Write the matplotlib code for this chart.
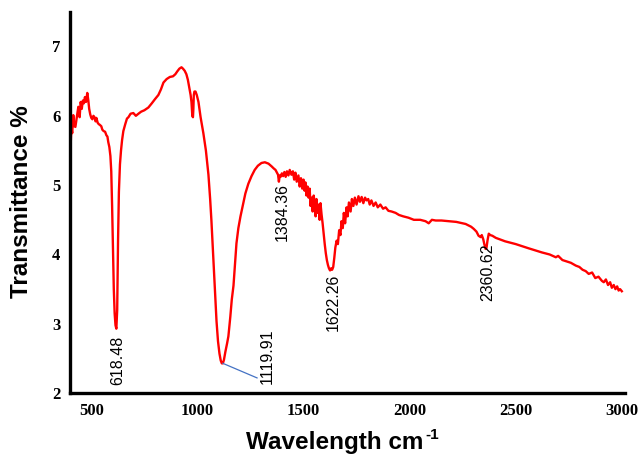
import matplotlib
matplotlib.use("Agg")
import matplotlib.pyplot as plt

wavenumber = [
    400, 403, 406, 410, 415, 420, 425, 430, 435, 439,
    445, 450, 455, 460, 465, 470, 475, 481, 486, 490,
    495, 500, 505, 510, 515, 520, 524, 530, 535, 540,
    547, 552, 558, 565, 571, 576, 580, 585, 590, 594,
    598, 602, 606, 610, 614, 618, 622, 626, 630, 635,
    640, 645, 651, 660, 668, 675, 685, 698, 710, 722,
    735, 750, 769, 785, 800, 816, 828, 840, 855, 870,
    885, 896, 905, 915, 925, 932, 940, 948, 955, 962,
    968, 972, 976, 979, 981, 983, 986, 991, 997, 1005,
    1015, 1028, 1040, 1052, 1060, 1066, 1075, 1083, 1090, 1097,
    1104, 1110, 1115, 1120, 1125, 1132, 1140, 1146, 1155, 1162,
    1170, 1177, 1184, 1193, 1203, 1215, 1226, 1240, 1255, 1270,
    1285, 1302, 1318, 1335, 1350, 1360, 1368, 1375, 1380, 1384,
    1388, 1392, 1398, 1404, 1410, 1416, 1422, 1429, 1435, 1443,
    1450, 1456, 1462, 1468, 1476, 1482, 1488, 1494, 1500, 1505,
    1509, 1514, 1519, 1524, 1529, 1533, 1538, 1543, 1548, 1553,
    1557, 1561, 1566, 1571, 1576, 1580, 1585, 1590, 1595, 1600,
    1605, 1610, 1615, 1620, 1625, 1630, 1635, 1640, 1645, 1650,
    1656, 1662, 1668, 1674, 1679, 1685, 1690, 1696, 1703, 1708,
    1714, 1722, 1728, 1735, 1742, 1750, 1759, 1766, 1774, 1782,
    1790, 1797, 1805, 1812, 1820, 1830, 1840, 1850, 1862, 1875,
    1887, 1900, 1915, 1934, 1950, 1970, 1995, 2020, 2050, 2075,
    2090, 2105, 2123, 2150, 2184, 2220, 2264, 2290, 2302, 2315,
    2325, 2335, 2340, 2347, 2352, 2358, 2362, 2367, 2373, 2380,
    2390, 2406, 2450, 2500, 2560, 2623, 2660, 2689, 2700, 2720,
    2740, 2760, 2783, 2800, 2815, 2830, 2844, 2860, 2875, 2890,
    2906, 2915, 2925, 2935, 2945, 2953, 2962, 2970, 2978, 2985,
    2992, 3000,
]

transmittance = [
    5.05, 5.60, 5.84, 5.75, 6.01, 5.85, 5.84, 5.95, 6.05, 6.13,
    5.98, 6.20, 6.10, 6.22, 6.18, 6.27, 6.20, 6.33, 6.22, 6.10,
    6.02, 5.97, 5.95, 6.00, 5.98, 5.92, 5.97, 5.90, 5.88, 5.87,
    5.85, 5.80, 5.78, 5.77, 5.72, 5.70, 5.62, 5.55, 5.42, 5.20,
    4.70, 4.10, 3.50, 3.15, 2.98, 2.93, 3.20, 4.20, 4.90, 5.30,
    5.50, 5.65, 5.78, 5.88, 5.96, 5.98, 6.03, 6.04, 6.00, 6.03,
    6.06, 6.08, 6.12, 6.18, 6.24, 6.30, 6.38, 6.48, 6.53, 6.56,
    6.57, 6.60, 6.64, 6.68, 6.70, 6.68, 6.65, 6.60, 6.52, 6.40,
    6.30, 6.20, 6.00, 5.98, 6.10, 6.30, 6.35, 6.35, 6.30, 6.20,
    5.98, 5.75, 5.50, 5.15, 4.80, 4.49, 3.95, 3.45, 3.04, 2.75,
    2.57, 2.47, 2.43, 2.43, 2.48, 2.60, 2.72, 2.82, 3.10, 3.35,
    3.55, 3.85, 4.16, 4.38, 4.55, 4.72, 4.88, 5.02, 5.13, 5.22,
    5.28, 5.32, 5.33, 5.31, 5.27, 5.24, 5.22, 5.18, 5.15, 5.05,
    5.14, 5.12, 5.17, 5.13, 5.19, 5.12, 5.20, 5.14, 5.22, 5.15,
    5.20, 5.08, 5.18, 5.05, 5.14, 4.98, 5.10, 4.95, 5.08, 4.92,
    5.04, 4.85, 4.98, 4.82, 4.95, 4.70, 4.82, 4.62, 4.85, 4.72,
    4.55, 4.80, 4.60, 4.72, 4.50, 4.74, 4.58, 4.45, 4.30, 4.15,
    4.02, 3.92, 3.85, 3.80, 3.77, 3.80, 3.78, 3.82, 3.95, 4.10,
    4.20, 4.15, 4.35, 4.28, 4.48, 4.38, 4.60, 4.45, 4.68, 4.55,
    4.75, 4.62, 4.80, 4.70, 4.82, 4.72, 4.84, 4.76, 4.83, 4.74,
    4.82, 4.78, 4.80, 4.72, 4.78, 4.70, 4.75, 4.68, 4.72, 4.66,
    4.68, 4.63, 4.62, 4.60, 4.57, 4.55, 4.53, 4.50, 4.50, 4.48,
    4.45, 4.50, 4.49, 4.49, 4.48, 4.47, 4.44, 4.40, 4.37, 4.33,
    4.27, 4.25, 4.28, 4.22, 4.15, 4.08, 4.09, 4.20, 4.30, 4.28,
    4.27, 4.24, 4.19, 4.15, 4.09, 4.03, 4.00, 3.96, 3.98, 3.92,
    3.90, 3.88, 3.84, 3.82, 3.78, 3.76, 3.72, 3.74, 3.66, 3.68,
    3.62, 3.60, 3.64, 3.56, 3.60, 3.52, 3.56, 3.50, 3.54, 3.48,
    3.50, 3.47,
]

peak_labels = ["618.48", "1119.91", "1384.36", "1622.26", "2360.62"]
# label placement (x, bottom y) in data units
label_x = [626, 1328, 1399, 1639, 2369]
label_y = [2.12, 2.13, 4.20, 2.90, 3.33]

x_ticks = [500, 1000, 1500, 2000, 2500, 3000]
y_ticks = [2, 3, 4, 5, 6, 7]

fig = plt.figure(figsize=(6.43, 4.54), dpi=100)
ax = fig.add_axes([0.109, 0.134, 0.863, 0.840])

ax.plot(wavenumber, transmittance, color='#ff0000', lw=1.7, solid_joinstyle='round')

for lab, lx, ly in zip(peak_labels, label_x, label_y):
    ax.text(lx, ly, lab, rotation=90, ha='center', va='bottom',
            fontsize=11.5, family='Liberation Sans', color='black')

# leader line for 1119.91
ax.plot([1120, 1281], [2.43, 2.22], color='#4472C4', lw=0.9)

ax.set_xlim(400, 3015)
ax.set_ylim(2, 7.5)
ax.set_xticks(x_ticks)
ax.set_yticks(y_ticks)
ax.tick_params(length=0, pad=7)
for lbl in ax.get_xticklabels() + ax.get_yticklabels():
    lbl.set_family('Liberation Serif')
    lbl.set_fontweight('bold')
    lbl.set_fontsize(12)

for s in ['top', 'right']:
    ax.spines[s].set_visible(False)
for s in ['left', 'bottom']:
    ax.spines[s].set_linewidth(2.4)
    ax.spines[s].set_color('black')

fig.text(22 / 643, 1 - 202 / 454, 'Transmittance %', rotation=90,
         ha='center', va='center', fontsize=17.5, fontweight='bold',
         family='Liberation Sans')
xl = fig.text(335 / 643, 1 - 442 / 454, 'Wavelength cm',
              ha='center', va='center', fontsize=17.5, fontweight='bold',
              family='Liberation Sans')
fig.canvas.draw()
ax.annotate('-1', xy=(1.0, 1.0), xycoords=xl, xytext=(1, 2),
            textcoords='offset points', ha='left', va='top',
            fontsize=11, fontweight='bold', family='Liberation Sans')

fig.savefig('out.png', dpi=100)
